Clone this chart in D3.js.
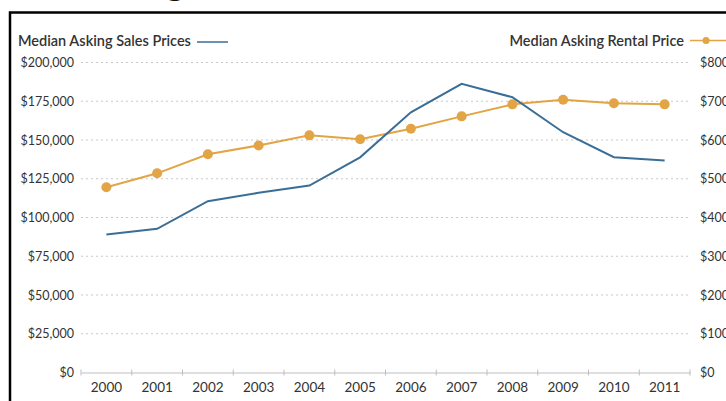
<!DOCTYPE html>
<html><head><meta charset="utf-8">
<script src="https://cdn.jsdelivr.net/npm/d3@7"></script>
<style>body{margin:0;background:#fff}svg{display:block}</style>
</head><body>
<svg id="c" width="726" height="401"></svg>
<script>
const years = ["2000","2001","2002","2003","2004","2005","2006","2007","2008","2009","2010","2011"];
const salesPrices = [89000, 92700, 110500, 115900, 120600, 138800, 167900, 186200, 177600, 155000, 138900, 136700];
const rentalPrices = [478, 514, 563, 586, 612, 602, 629, 661, 692, 704, 695, 692];
const leftTicks = [0, 25000, 50000, 75000, 100000, 125000, 150000, 175000, 200000];
const rightTicks = [0, 100, 200, 300, 400, 500, 600, 700, 800];
const salesLabel = "Median Asking Sales Prices";
const rentalLabel = "Median Asking Rental Price";
const titleText = "Median Asking Prices";

const svg = d3.select("#c");
const font = "Lato, 'Open Sans', sans-serif";
const blue = "#3b6e96", orange = "#e2a445";

const x = d3.scaleBand().domain(years).range([81, 690]);
const yL = d3.scaleLinear().domain([0, 200000]).range([372.5, 62.5]);
const yR = d3.scaleLinear().domain([0, 800]).range([372.5, 62.5]);

// partial title (cut off at top)
const t = svg.append("text").attr("y", -5).attr("font-family", "'DejaVu Sans', sans-serif")
  .attr("font-weight", "bold").attr("font-size", 28).attr("fill", "#111").text(titleText);
const gIdx = titleText.indexOf("g");
const pre = t.node().getSubStringLength(0, gIdx);
t.attr("x", 166 - pre);

// frame
svg.append("path").attr("d", "M10,401 V12.5 H726").attr("fill", "none").attr("stroke", "#000").attr("stroke-width", 2.5);

// gridlines
svg.append("g").selectAll("line").data(leftTicks.slice(1)).join("line")
  .attr("x1", 81).attr("x2", 690).attr("y1", d => yL(d)).attr("y2", d => yL(d))
  .attr("stroke", "#c9c9c9").attr("stroke-width", 1).attr("stroke-dasharray", "2,3");

// x axis
const xAxis = d3.axisBottom(x).tickSize(0).tickPadding(10);
const gx = svg.append("g").attr("transform", "translate(0,372.5)").call(xAxis);
gx.select(".domain").attr("stroke", "#bdbdbd");
gx.selectAll("text").attr("font-family", font).attr("font-size", 13.5).attr("fill", "#333");
// band boundary ticks
const bounds = years.map(d => x(d)).concat([x.range()[1]]);
gx.selectAll(".bt").data(bounds).join("line").attr("class", "bt")
  .attr("x1", d => d).attr("x2", d => d).attr("y1", -3).attr("y2", 3).attr("stroke", "#bdbdbd");

// left axis
const gl = svg.append("g").attr("transform", "translate(74,0)")
  .call(d3.axisLeft(yL).tickValues(leftTicks).tickSize(0).tickPadding(0).tickFormat(d => "$" + d3.format(",")(d)));
gl.select(".domain").remove();
gl.selectAll("text").attr("font-family", font).attr("font-size", 12.5).attr("fill", "#333");

// right axis
const gr = svg.append("g").attr("transform", "translate(700,0)")
  .call(d3.axisRight(yR).tickValues(rightTicks).tickSize(0).tickPadding(0).tickFormat(d => "$" + d));
gr.select(".domain").remove();
gr.selectAll("text").attr("font-family", font).attr("font-size", 12.5).attr("fill", "#333");

const cx = d => x(d) + x.bandwidth() / 2;

// rental line
svg.append("path").datum(rentalPrices)
  .attr("d", d3.line().x((d, i) => cx(years[i])).y(d => yR(d)))
  .attr("fill", "none").attr("stroke", orange).attr("stroke-width", 2);
svg.append("g").selectAll("circle").data(rentalPrices).join("circle")
  .attr("cx", (d, i) => cx(years[i])).attr("cy", d => yR(d)).attr("r", 5).attr("fill", orange);

// sales line
svg.append("path").datum(salesPrices)
  .attr("d", d3.line().x((d, i) => cx(years[i])).y(d => yL(d)))
  .attr("fill", "none").attr("stroke", blue).attr("stroke-width", 2);

// legends
svg.append("text").attr("x", 18).attr("y", 46).attr("font-family", font).attr("font-weight", 600)
  .attr("font-size", 14.5).attr("fill", "#333").text(salesLabel);
svg.append("line").attr("x1", 197).attr("x2", 228).attr("y1", 42).attr("y2", 42).attr("stroke", blue).attr("stroke-width", 1.5);

svg.append("text").attr("x", 684).attr("y", 45.5).attr("text-anchor", "end").attr("font-family", font).attr("font-weight", 600)
  .attr("font-size", 14.5).attr("fill", "#333").text(rentalLabel);
svg.append("line").attr("x1", 690).attr("x2", 726).attr("y1", 40.5).attr("y2", 40.5).attr("stroke", orange).attr("stroke-width", 1.5);
svg.append("circle").attr("cx", 706).attr("cy", 40.5).attr("r", 3.5).attr("fill", orange);
</script>
</body></html>
